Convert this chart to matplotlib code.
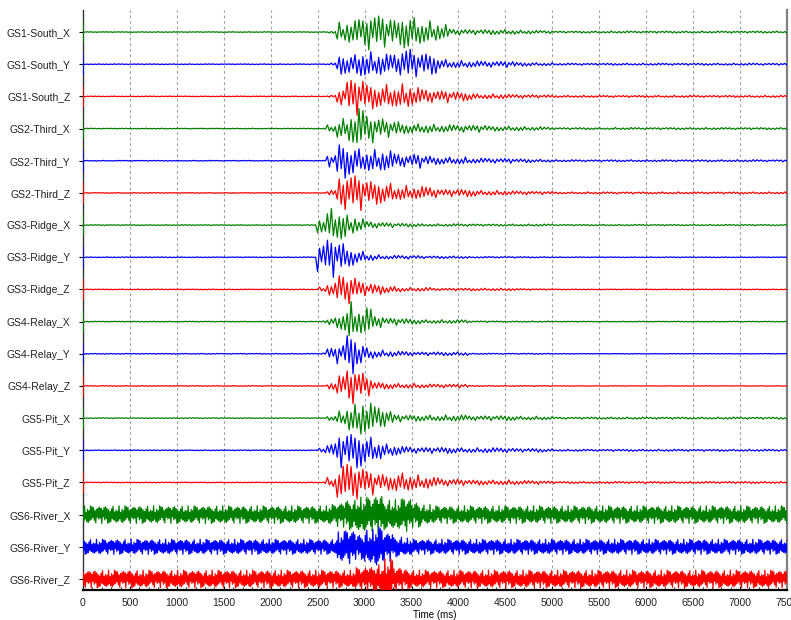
import numpy as np
import matplotlib
matplotlib.use("Agg")
import matplotlib.pyplot as plt

# trace names, top to bottom
names = ["GS1-South_X", "GS1-South_Y", "GS1-South_Z",
         "GS2-Third_X", "GS2-Third_Y", "GS2-Third_Z",
         "GS3-Ridge_X", "GS3-Ridge_Y", "GS3-Ridge_Z",
         "GS4-Relay_X", "GS4-Relay_Y", "GS4-Relay_Z",
         "GS5-Pit_X", "GS5-Pit_Y", "GS5-Pit_Z",
         "GS6-River_X", "GS6-River_Y", "GS6-River_Z"]

# first arrival (ms)
onset_ms = [2625, 2615, 2620, 2570, 2590, 2600, 2490, 2480, 2500,
            2560, 2550, 2600, 2600, 2520, 2550, 0, 0, 0]

# peak amplitude (pixels) per 100 ms bin, 2500 .. 4900 ms
env_t0 = 2500
env_px = [
    [1, 1, 8, 9, 11, 15, 15, 12, 10, 14, 12, 9, 8, 6, 2.5, 2.5, 2, 2, 2, 2, 2, 1.5, 1.5, 1.2, 1.2],
    [1, 1, 8, 8, 12, 10, 9, 8, 9, 14, 10, 9, 8, 4, 3, 3, 2.5, 2.5, 2.5, 2.5, 2.5, 1.5, 1.5, 1.2, 1.2],
    [1, 1, 7, 15, 15, 10, 9, 10, 9, 10, 7, 6, 5, 5, 4, 3.5, 3, 2, 2, 2, 1.5, 1.5, 1.5, 1.2, 1.2],
    [1, 3, 8, 12, 16, 12, 9, 7, 6, 4, 4, 4, 3.5, 3, 3, 3, 3, 3, 2, 2, 2, 2, 1.5, 1.5, 1.2],
    [1, 5, 14, 12, 10, 9, 9, 8, 6, 5, 6, 4, 3, 3, 3, 3, 2, 2, 2, 2, 2, 1.5, 1.5, 1.2, 1.2],
    [1, 2, 14, 16, 14, 10, 9, 8, 6, 6, 5, 5, 4, 3, 3, 3, 3, 2, 2, 2, 1.5, 1.5, 1.5, 1.2, 1.2],
    [6, 14, 13, 8, 5, 3, 2.5, 2, 1.5, 1.5, 1.5, 1, 1, 1, 1, 1, 1, 0.8, 0.8, 0.8, 0.8, 0.8, 0.8, 0.8, 0.8],
    [12, 16, 12, 7, 5, 3, 2, 1.5, 1.5, 1.5, 1.5, 1, 1, 1, 1, 1, 0.6, 0.6, 0.6, 0.6, 0.6, 0.5, 0.5, 0.5, 0.5],
    [2, 5, 12, 12, 7, 5, 4, 3, 2.5, 1.5, 1.5, 1.5, 1, 1, 1, 1, 1, 1, 1, 1, 1, 0.6, 0.6, 0.5, 0.5],
    [1, 3, 8, 16, 10, 11, 5, 3, 3, 2.5, 2, 1.5, 1.5, 1.5, 1.5, 1.5, 0.6, 0.6, 0.6, 0.5, 0.5, 0.5, 0.5, 0.5, 0.5],
    [1, 5, 8, 16, 9, 5, 3, 2.5, 2, 2, 1.5, 1.5, 1.5, 1.5, 1.5, 1.5, 0.4, 0.4, 0.4, 0.4, 0.4, 0.4, 0.4, 0.4, 0.4],
    [1, 3, 8, 15, 12, 8, 3, 2.5, 2, 2, 2, 1.5, 1.5, 1.5, 1.5, 1.5, 0.4, 0.4, 0.4, 0.4, 0.4, 0.4, 0.4, 0.4, 0.4],
    [1, 2, 6, 11, 16, 12, 10, 7, 3, 2.5, 2.5, 2.5, 2.5, 2.5, 2.5, 2.5, 2, 2, 2, 2, 2, 1.5, 1.5, 1.5, 1.2],
    [2, 6, 14, 14, 14, 11, 8, 5, 4, 3, 2.5, 2.5, 2.5, 2.5, 2.5, 2, 2, 2, 2, 2, 2, 1.5, 1.5, 1.5, 1.2],
    [1, 4, 13, 16, 14, 10, 7, 6, 8, 8, 6, 5, 4, 3, 3, 2.5, 2, 2, 2, 2, 2, 1.5, 1.5, 1.5, 1.2],
    [7, 8, 10, 12, 14, 14, 16, 12, 12, 14, 10, 8, 7, 7, 7, 7, 7, 7, 7, 7, 7, 7, 7, 7, 7],
    [6, 6, 12, 14, 10, 14, 16, 12, 8, 7, 6, 6, 6, 6, 6, 6, 6, 6, 6, 6, 6, 6, 6, 6, 6],
    [7, 7, 7, 7, 9, 10, 12, 16, 10, 8, 7, 7, 7, 7, 7, 7, 7, 7, 7, 7, 7, 7, 7, 7, 7],
]

# level before the arrival and after 5000 ms (pixels)
pre_px = [0.3] * 15 + [7, 6, 7]
post_px = [0.8, 0.8, 0.8, 0.8, 0.8, 0.8, 0.5, 0.3, 0.3,
           0.3, 0.2, 0.2, 0.8, 0.8, 0.8, 7, 6, 7]
# marker pulse at t = 0 (pixels)
spike0_px = [10] * 15 + [0, 0, 0]

# relative heights of successive peaks in a typical wave packet
peak_shape = [1.0, 0.55, 0.9, 0.35, 0.8, 0.65, 0.45, 0.95, 0.6, 0.3, 0.75, 0.5,
              0.85, 0.4, 0.7, 1.0, 0.5, 0.25, 0.8, 0.6, 0.9, 0.45, 0.7]

comp_colors = {"X": "#008000", "Y": "#0000ff", "Z": "#ff0000"}
row_px = 32.1
amp_gain = 1.25
t_end = 7500

fig = plt.figure(figsize=(7.91, 6.2), dpi=100)
ax = fig.add_axes([83 / 791, 30 / 620, 704 / 791, 580 / 620])

for i, name in enumerate(names):
    noisy = name.startswith("GS6")
    step = 8 if noisy else 21
    t = np.arange(0, t_end + step, step)
    amp = np.empty(len(t))
    for k, tk in enumerate(t):
        if tk < onset_ms[i]:
            a = pre_px[i]
        elif tk < env_t0 + 100 * len(env_px[i]):
            b = max(0, int((tk - env_t0) // 100))
            a = env_px[i][b]
        else:
            a = post_px[i]
        amp[k] = a
    shape = np.array([peak_shape[(k + 7 * i) % len(peak_shape)] for k in range(len(t))])
    sign = np.where(np.arange(len(t)) % 2 == 0, 1.0, -1.0)
    y = amp_gain * amp * shape * sign / row_px
    if spike0_px[i] > 0:
        t = np.concatenate([[0, 0, 0], t])
        s = spike0_px[i] / row_px
        y = np.concatenate([[s, -s, 0], y])
    ax.plot(t, y - i, color=comp_colors[name[-1]], lw=0.9, zorder=3, clip_on=True)

ax.set_xlim(0, t_end)
ax.set_ylim(-17 - 11 / row_px, 22 / row_px)
ax.set_xticks(np.arange(0, 7501, 500))
ax.set_xticks(np.arange(0, 7501, 100), minor=True)
ax.set_yticks(-np.arange(len(names)))
ax.set_yticklabels(names)
ax.tick_params(axis="x", which="major", direction="in", length=3, labelsize=7.5, pad=6)
ax.tick_params(axis="x", which="minor", direction="in", length=2)
ax.tick_params(axis="y", direction="out", length=3, labelsize=7.5, pad=6)
for lab in ax.get_xticklabels() + ax.get_yticklabels():
    lab.set_fontfamily("Liberation Sans")
    lab.set_color("#222222")
ax.set_xlabel("Time (ms)", fontsize=7, family="Liberation Sans", labelpad=1)

for gx in np.arange(500, 7500, 500):
    ax.axvline(gx, color="#a0a0a0", lw=0.8, ls=(0, (2.5, 2.5)), zorder=0)

ax.spines["top"].set_visible(False)
ax.spines["left"].set_color("#333333")
ax.spines["left"].set_linewidth(1.0)
ax.spines["bottom"].set_color("black")
ax.spines["bottom"].set_linewidth(1.6)
ax.spines["right"].set_color("#808080")
ax.spines["right"].set_linewidth(1.6)

fig.savefig("out.png", dpi=100)
